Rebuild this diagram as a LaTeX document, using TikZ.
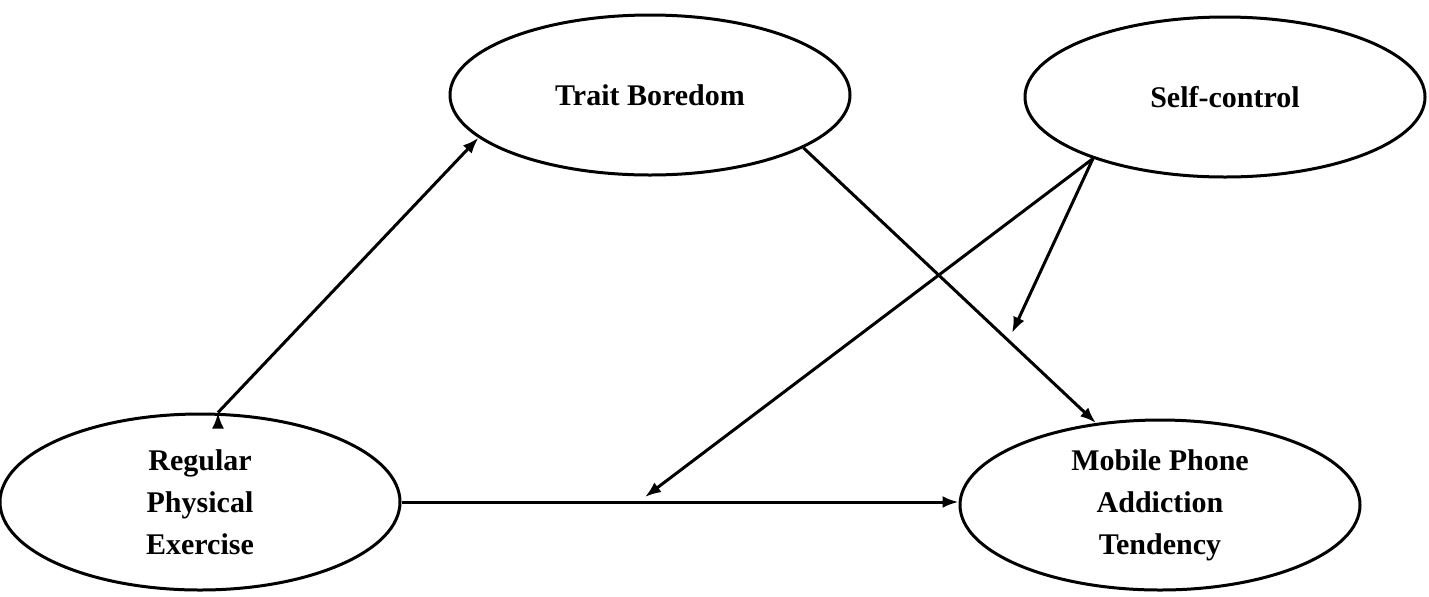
\documentclass[tikz,border=0pt]{standalone}
\usepackage{fontspec}
\setmainfont{Liberation Serif}
\usetikzlibrary{shapes.geometric,arrows.meta}
\begin{document}
\begin{tikzpicture}[x=0.5pt,y=-0.5pt,
  var/.style={draw,ellipse,line width=1.5pt,minimum width=200pt,minimum height=82pt,inner sep=0pt,align=center,font=\fontsize{15}{21}\selectfont\bfseries},
  arr/.style={line width=1.5pt,-{Latex[length=8pt,width=6pt]}}]
\useasboundingbox (0,0) rectangle (1429,596);
\node[var,minimum height=80pt] (tb) at (650,95) {Trait Boredom};
\node[var,minimum height=80pt] (sc) at (1225,97) {Self-control};
\node[var,minimum height=88pt] (rpe) at (200,502) {Regular\\Physical\\Exercise};
\node[var,minimum height=85pt] (mp) at (1160,505) {Mobile Phone\\Addiction\\Tendency};
\coordinate (m1) at (1012,333);
\coordinate (m2) at (645,497);
\draw[arr] (rpe.north) ++(18,0) coordinate (r0);
\draw[arr] (r0) -- (tb.194);
\draw[arr] (tb.341) -- (mp.128);
\draw[arr] (sc.205) -- (m1);
\draw[arr] (sc.205) -- (m2);
\draw[arr] (rpe.east) -- (rpe.east -| mp.west);
\end{tikzpicture}
\end{document}
